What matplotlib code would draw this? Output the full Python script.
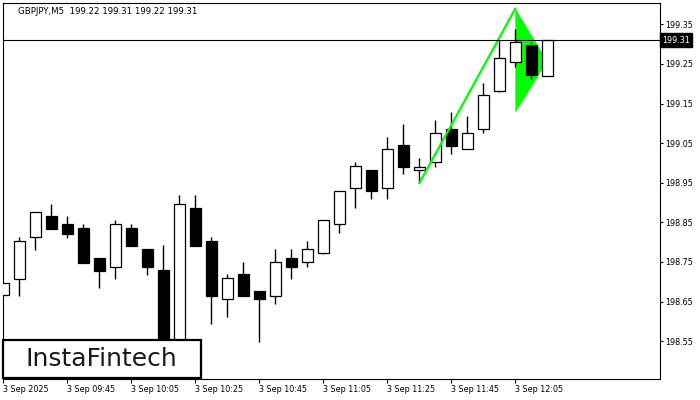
import numpy as np
from matplotlib import pyplot as plt
from matplotlib.patches import Rectangle

# GBPJPY M5 candles, 09:25 .. 12:15
opens = [198.666, 198.708, 198.812, 198.866, 198.846, 198.836, 198.760, 198.738,
         198.836, 198.783, 198.730, 198.520, 198.886, 198.803, 198.656, 198.719,
         198.676, 198.665, 198.759, 198.749, 198.772, 198.845, 198.938, 198.982,
         198.938, 199.045, 198.981, 199.002, 199.085, 199.034, 199.085, 199.182,
         199.254, 199.298, 199.220]
highs = [198.698, 198.814, 198.877, 198.896, 198.866, 198.846, 198.760, 198.856,
         198.846, 198.783, 198.793, 198.919, 198.919, 198.813, 198.719, 198.750,
         198.676, 198.783, 198.783, 198.803, 198.857, 198.930, 199.002, 198.982,
         199.065, 199.098, 199.012, 199.108, 199.129, 199.118, 199.201, 199.310,
         199.338, 199.306, 199.310]
lows = [198.664, 198.664, 198.780, 198.834, 198.811, 198.748, 198.685, 198.708,
        198.791, 198.718, 198.480, 198.500, 198.791, 198.592, 198.612, 198.665,
        198.548, 198.644, 198.708, 198.738, 198.770, 198.822, 198.885, 198.908,
        198.908, 198.971, 198.951, 198.991, 199.022, 199.034, 199.075, 199.180,
        199.243, 199.211, 199.220]
closes = [198.696, 198.802, 198.875, 198.834, 198.821, 198.748, 198.728, 198.846,
          198.791, 198.738, 198.500, 198.896, 198.791, 198.665, 198.709, 198.665,
          198.656, 198.750, 198.738, 198.782, 198.855, 198.928, 198.992, 198.928,
          199.034, 198.991, 198.991, 199.075, 199.044, 199.075, 199.171, 199.264,
          199.306, 199.223, 199.310]

tick_idx = [0, 4, 8, 12, 16, 20, 24, 28, 32]
tick_labels = ['3 Sep 2025', '3 Sep 09:45', '3 Sep 10:05', '3 Sep 10:25', '3 Sep 10:45',
               '3 Sep 11:05', '3 Sep 11:25', '3 Sep 11:45', '3 Sep 12:05']
price_ticks = [198.55, 198.65, 198.75, 198.85, 198.95, 199.05, 199.15, 199.25, 199.35]
last_price = 199.31

# bullish pennant: pole and flag
pole_x = [26, 32]
pole_y = [198.949, 199.390]
flag_x = [32, 34, 32]
flag_y = [199.390, 199.257, 199.127]

fig = plt.figure(figsize=(7, 4), dpi=100)
ax = fig.add_axes([2.5 / 700, 21.5 / 400, 657.5 / 700, 375.5 / 400])

x = np.arange(len(opens))
o = np.array(opens)
c = np.array(closes)
up = c >= o
face = ['white' if u else 'black' for u in up]

ax.fill(flag_x, flag_y, color='#00ff00', lw=0, zorder=1)
ax.vlines(x, lows, highs, color='black', lw=1.0, zorder=2)
ax.bar(x, np.abs(c - o), bottom=np.minimum(o, c), width=0.66,
       color=face, edgecolor='black', lw=0.9, zorder=3)
ax.plot(pole_x, pole_y, color='#00ff00', lw=1.6, zorder=4)
ax.axhline(last_price, color='black', lw=0.8, zorder=5)

ax.set_xlim(-0.05, 41.04)
ax.set_ylim(198.4556, 199.404)

ax.yaxis.tick_right()
ax.set_yticks(price_ticks)
ax.set_yticklabels(['%.2f' % p for p in price_ticks])
ax.set_xticks(tick_idx)
ax.set_xticklabels(tick_labels, ha='left')
ax.tick_params(axis='y', direction='out', length=2.5, width=0.8, pad=1.5, labelsize=5.8)
ax.tick_params(axis='x', direction='out', length=3, width=0.8, pad=1.5, labelsize=5.8)
for s in ax.spines.values():
    s.set_linewidth(0.8)

ax.text(1 + 2 / 657.5, last_price, '199.31', transform=ax.get_yaxis_transform(),
        ha='left', va='center', fontsize=5.8, color='white', zorder=10,
        bbox=dict(boxstyle='square,pad=0.3', fc='black', ec='black'), clip_on=False)

fig.text(18 / 700, 1 - 11.5 / 400, 'GBPJPY,M5  199.22 199.31 199.22 199.31',
         fontsize=6.2, ha='left', va='center')

# logo box
fig.patches.append(Rectangle((3 / 700, 1 - 378 / 400), 198 / 700, 38 / 400,
                             transform=fig.transFigure, facecolor='white',
                             edgecolor='black', lw=1.6, zorder=20))
fig.text(101 / 700, 1 - 359 / 400, 'InstaFintech', fontsize=18, ha='center',
         va='center', color='#1a1a1a', zorder=21)

fig.savefig('out.png', dpi=100)
